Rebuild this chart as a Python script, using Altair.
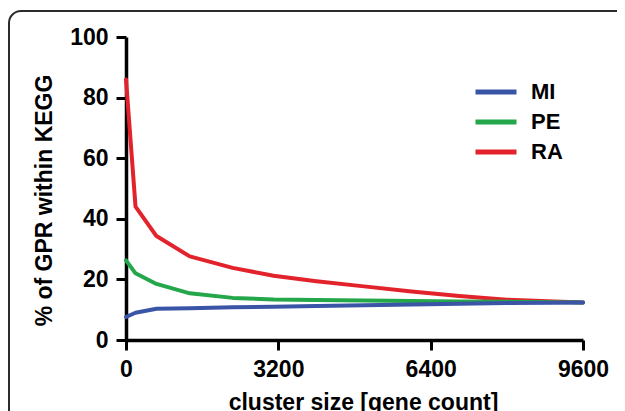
import altair as alt
import pandas as pd

# ---- data ----
cluster_size = [0, 200, 640, 1340, 2240, 3100, 4000, 5000, 6000, 7000, 8000, 9000, 9600]
mi_values = [7.6, 9.0, 10.3, 10.5, 10.8, 11.0, 11.2, 11.5, 11.7, 12.0, 12.2, 12.3, 12.4]
pe_values = [26.3, 22.0, 18.5, 15.4, 13.9, 13.4, 13.2, 13.0, 12.9, 12.7, 12.6, 12.5, 12.4]
ra_values = [86.0, 44.0, 34.3, 27.6, 23.8, 21.2, 19.4, 17.7, 16.0, 14.5, 13.3, 12.7, 12.4]
series_names = ["MI", "PE", "RA"]
series_colors = ["#3a55a6", "#23a74a", "#e3232c"]
x_ticks = [0, 3200, 6400, 9600]
y_ticks = [0, 20, 40, 60, 80, 100]

rows = []
for name, vals in zip(series_names, [mi_values, pe_values, ra_values]):
    for xv, yv in zip(cluster_size, vals):
        rows.append({"size": xv, "pct": yv, "method": name})
df = pd.DataFrame(rows)

FONT = "Liberation Sans"

color = alt.Color(
    "method:N",
    scale=alt.Scale(domain=series_names, range=series_colors),
    legend=alt.Legend(
        orient="none", legendX=347, legendY=40, title=None,
        symbolType="stroke", symbolSize=1681, symbolStrokeWidth=5,
        labelFont=FONT, labelFontSize=22, labelFontWeight="bold",
        labelColor="black", labelOffset=12, rowPadding=0, clipHeight=30,
        padding=0,
    ),
)

x_enc = alt.X(
    "size:Q",
    scale=alt.Scale(domain=[0, 9600], nice=False, zero=False),
    axis=alt.Axis(values=x_ticks, format="d", title="cluster size [gene count]",
                  labelPadding=8, labelFlush=False, titleX=237, titleY=69,
                  titleBaseline="alphabetic", titleAlign="center"),
)
y_enc = alt.Y(
    "pct:Q",
    scale=alt.Scale(domain=[0, 100], nice=False),
    axis=alt.Axis(values=y_ticks, format="d", title="% of GPR within KEGG",
                  labelPadding=8, labelFlush=False, titleX=-82, titleY=163,
                  titleBaseline="middle", titleAlign="center", titleAngle=270),
)

frame = alt.Chart(pd.DataFrame({"a": [0]})).mark_rect(
    fill="transparent", stroke="#2b2b2b", strokeWidth=2, cornerRadius=12
).encode(x=alt.value(-117), x2=alt.value(700), y=alt.value(-26), y2=alt.value(600))

base = alt.Chart(df).mark_line(strokeWidth=4, strokeCap="round", strokeJoin="round").encode(
    x=x_enc, y=y_enc, color=color
)

layers = [frame]
for name in ["RA", "PE", "MI"]:
    layers.append(base.transform_filter(alt.datum.method == name))

chart = alt.layer(*layers).properties(
    width=457, height=303,
    padding={"left": 118, "top": 29, "right": 34, "bottom": 71},
    autosize=alt.AutoSizeParams(type="none"),
).configure_view(stroke=None).configure_axis(
    grid=False, domainColor="black", domainWidth=3.5, tickColor="black",
    tickWidth=3, tickSize=10, labelFont=FONT, labelFontSize=23,
    labelFontWeight="bold", labelColor="black", titleFont=FONT,
    titleFontSize=23, titleFontWeight="bold", titleColor="black",
)

chart.save("out.html", embed_options={"renderer": "svg", "actions": False})
